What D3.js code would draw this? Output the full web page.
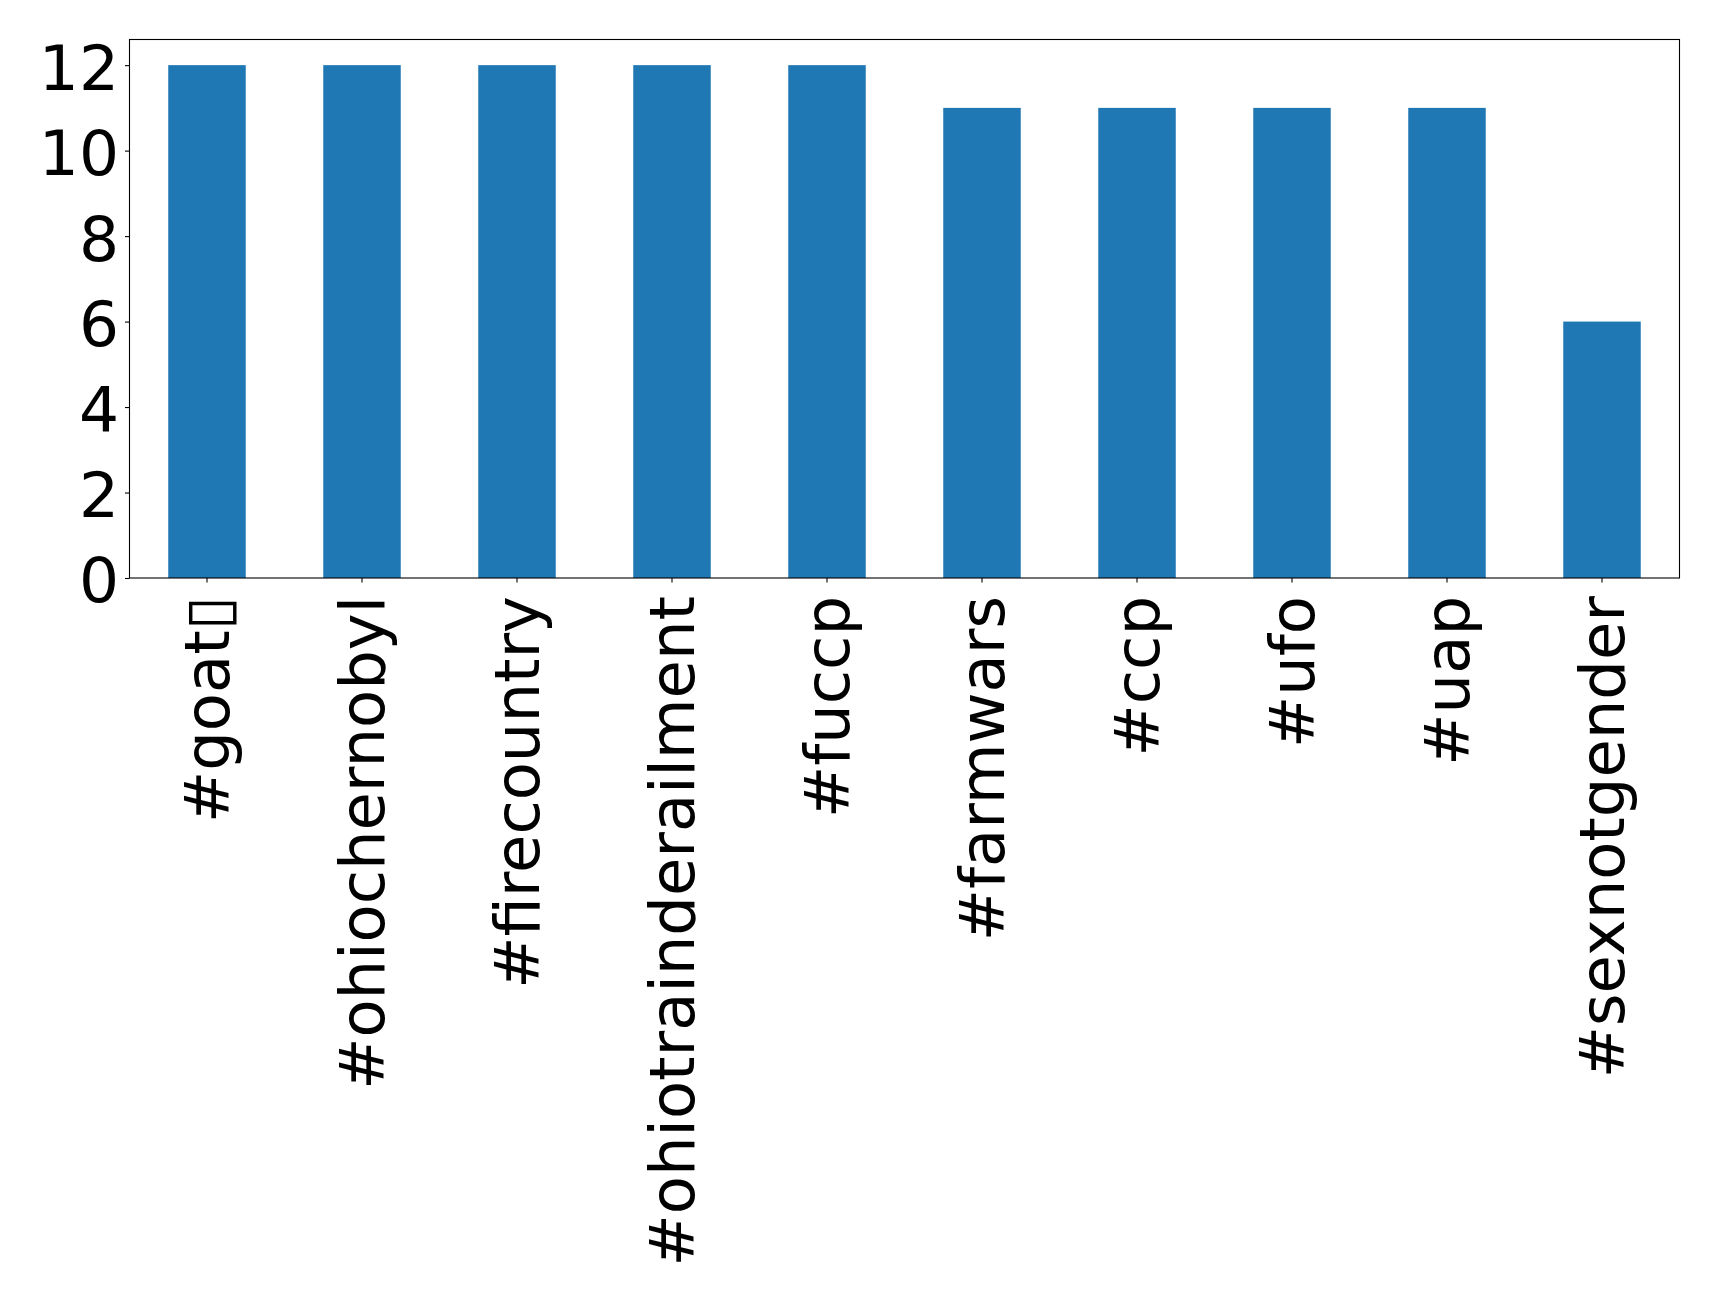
<!DOCTYPE html>
<html>
<head>
<meta charset="utf-8">
<script src="https://cdn.jsdelivr.net/npm/d3@7"></script>
<style>
  html, body { margin: 0; padding: 0; background: #fff; }
  svg { display: block; }
  text { font-family: "DejaVu Sans", sans-serif; fill: #000; }
</style>
</head>
<body>
<svg id="chart" width="1719" height="1299"></svg>
<script>
// the last character of the first tag could not be drawn in the source and shows as a box
const categories = ["#goat\u25AF", "#ohiochernobyl", "#firecountry", "#ohiotrainderailment", "#fuccp",
                    "#farmwars", "#ccp", "#ufo", "#uap", "#sexnotgender"];
const counts = [12, 12, 12, 12, 12, 11, 11, 11, 11, 6];
const yTicks = [0, 2, 4, 6, 8, 10, 12];

const W = 1719, H = 1299;
const margin = { left: 129.5, right: W - 1679.5, top: 39.5, bottom: H - 578 };
const iw = W - margin.left - margin.right;
const ih = H - margin.top - margin.bottom;
const fontSize = 62.4;

const svg = d3.select("#chart");
const g = svg.append("g").attr("transform", `translate(${margin.left},${margin.top})`);

const x = d3.scaleBand().domain(categories).range([0, iw]).paddingInner(0.5).paddingOuter(0.25);
const y = d3.scaleLinear().domain([0, d3.max(counts) * 1.05]).range([ih, 0]);

g.selectAll("rect.bar")
  .data(categories)
  .enter().append("rect")
  .attr("class", "bar")
  .attr("x", d => x(d))
  .attr("width", x.bandwidth())
  .attr("y", (d, i) => y(counts[i]))
  .attr("height", (d, i) => y(0) - y(counts[i]))
  .attr("fill", "#1f77b4");

// frame
g.append("rect")
  .attr("x", 0).attr("y", 0).attr("width", iw).attr("height", ih)
  .attr("fill", "none").attr("stroke", "#000").attr("stroke-width", 1.1);

// y axis
const yAxis = g.append("g")
  .call(d3.axisLeft(y).tickValues(yTicks).tickSize(4.5).tickPadding(6).tickFormat(d3.format("d")));
yAxis.select(".domain").remove();
yAxis.selectAll("line").attr("stroke", "#000").attr("stroke-width", 1.1);
yAxis.selectAll("text")
  .style("font-size", "63px")
  .attr("dy", "0.38em");

// x axis
const xAxis = g.append("g")
  .attr("transform", `translate(0,${ih})`)
  .call(d3.axisBottom(x).tickSize(4.5).tickPadding(0));
xAxis.select(".domain").remove();
xAxis.selectAll("line").attr("stroke", "#000").attr("stroke-width", 1.1);
xAxis.selectAll("text")
  .style("font-size", fontSize + "px")
  .attr("text-anchor", "end")
  .attr("dy", null)
  .attr("y", 0)
  .attr("dominant-baseline", "central")
  .attr("transform", "translate(0,18) rotate(-90)");
</script>
</body>
</html>
